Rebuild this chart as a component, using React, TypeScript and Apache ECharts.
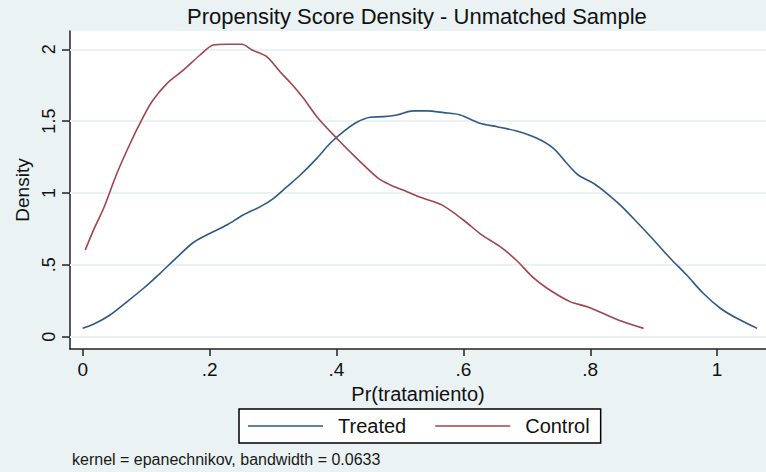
import React, { useEffect, useRef } from "react";
import * as echarts from "echarts";

const titleText = "Propensity Score Density - Unmatched Sample";
const noteText = "kernel = epanechnikov, bandwidth = 0.0633";
const seriesNames = ["Treated", "Control"];
const xTicks = [0, 0.2, 0.4, 0.6, 0.8, 1];
const yTicks = [0, 0.5, 1, 1.5, 2];

const treatedX = [0, .017, .043, .070, .096, .122, .148, .175, .201, .227, .253, .280, .301, .322, .343, .369, .390, .411, .432, .453, .474, .495, .521, .542, .569, .595, .626, .653, .684, .716, .742, .763, .781, .805, .826, .847, .873, .900, .926, .952, .978, 1.005, 1.031, 1.063];
const treatedY = [.058, .086, .151, .244, .337, .441, .550, .657, .720, .777, .847, .905, .963, 1.044, 1.125, 1.241, 1.346, 1.427, 1.492, 1.527, 1.531, 1.543, 1.571, 1.571, 1.559, 1.543, 1.485, 1.461, 1.431, 1.381, 1.311, 1.207, 1.125, 1.068, .998, .917, .800, .673, .546, .429, .302, .198, .128, .058];

const controlX = [.004, .017, .033, .054, .075, .093, .109, .133, .159, .185, .206, .227, .251, .267, .290, .311, .330, .348, .369, .403, .432, .466, .485, .511, .537, .566, .600, .629, .658, .684, .708, .732, .768, .795, .826, .852, .884];
const controlY = [.603, .742, .894, 1.137, 1.346, 1.508, 1.635, 1.763, 1.856, 1.960, 2.030, 2.035, 2.035, 1.995, 1.949, 1.844, 1.755, 1.659, 1.531, 1.369, 1.241, 1.102, 1.056, 1.009, .963, .917, .812, .708, .626, .53, .42, .337, .244, .209, .151, .104, .058];

const FONT = "'Liberation Sans', Arial, sans-serif";
const fmt = (v: number) => {
  if (v === 0) return "0";
  const s = String(Math.round(v * 100) / 100);
  return s.startsWith("0.") ? s.slice(1) : s;
};

export default function App() {
  const ref = useRef<HTMLDivElement>(null);
  useEffect(() => {
    if (!ref.current) return;
    const chart = echarts.init(ref.current, null, { renderer: "svg" });
    const zip = (xs: number[], ys: number[]) => xs.map((x, i) => [x, ys[i]]);
    chart.setOption({
      animation: false,
      backgroundColor: "#eaf2f3",
      textStyle: { fontFamily: FONT },
      title: [
        {
          text: titleText,
          left: 187,
          top: 5,
          padding: 0,
          textStyle: { fontSize: 22, fontWeight: "normal", color: "#111", fontFamily: FONT },
        },
        {
          text: noteText,
          left: 72,
          top: 451,
          padding: 0,
          textStyle: { fontSize: 16, fontWeight: "normal", color: "#1a1a1a", fontFamily: FONT },
        },
      ],
      legend: {
        data: seriesNames,
        left: 239,
        top: 409,
        orient: "horizontal",
        icon: "rect",
        backgroundColor: "#ffffff",
        borderColor: "#000",
        borderWidth: 1.5,
        borderRadius: 0,
        padding: [7, 11, 7, 9],
        itemWidth: 75,
        itemHeight: 1.6,
        itemGap: 29,
        textStyle: { fontSize: 20, color: "#111", fontFamily: FONT, padding: [0, 0, 0, 10] },
      },
      grid: { left: 70, top: 31, right: 0, bottom: 123, show: true, backgroundColor: "#ffffff", borderWidth: 0 },
      xAxis: {
        type: "value",
        min: -0.02,
        max: 1.077,
        name: "Pr(tratamiento)",
        nameLocation: "middle",
        nameGap: 23,
        nameTextStyle: { fontSize: 20, color: "#111", fontFamily: FONT },
        axisLine: { show: true, onZero: false, lineStyle: { color: "#222", width: 1.5 } },
        axisTick: { show: true, customValues: xTicks, length: 7, lineStyle: { color: "#222", width: 1.5 } },
        axisLabel: { customValues: xTicks, formatter: fmt, fontSize: 19, color: "#111", margin: 11, fontFamily: FONT },
        splitLine: { show: false },
      },
      yAxis: {
        type: "value",
        min: -0.0856,
        max: 2.127,
        name: "Density",
        nameLocation: "middle",
        nameGap: 36,
        nameRotate: 90,
        nameTextStyle: { fontSize: 19, color: "#111", fontFamily: FONT },
        axisLine: { show: true, onZero: false, lineStyle: { color: "#222", width: 1.5 } },
        axisTick: { show: true, customValues: yTicks, length: 8, lineStyle: { color: "#222", width: 1.5 } },
        axisLabel: { customValues: yTicks, formatter: fmt, rotate: 90, fontSize: 18, color: "#111", margin: 12, fontFamily: FONT },
        splitLine: { show: false },
      },
      series: [
        {
          name: "gridlines",
          type: "line",
          data: [],
          z: 1,
          silent: true,
          markLine: {
            silent: true,
            z: 1,
            symbol: "none",
            label: { show: false },
            lineStyle: { color: "#eaf2f3", width: 2, type: "solid" },
            data: yTicks.map((v) => ({ yAxis: v })),
          },
        },
        {
          name: seriesNames[0],
          type: "line",
          data: zip(treatedX, treatedY),
          showSymbol: false,
          symbol: "none",
          smooth: 0.3,
          z: 6,
          lineStyle: { color: "#2f5a86", width: 1.6 },
          itemStyle: { color: "#2f5a86" },
        },
        {
          name: seriesNames[1],
          type: "line",
          data: zip(controlX, controlY),
          showSymbol: false,
          symbol: "none",
          smooth: 0.3,
          z: 6,
          lineStyle: { color: "#a2444b", width: 1.6 },
          itemStyle: { color: "#a2444b" },
        },
      ],
    });
    return () => chart.dispose();
  }, []);
  return <div ref={ref} style={{ width: 766, height: 472, position: "absolute", left: 0, top: 0 }} />;
}
